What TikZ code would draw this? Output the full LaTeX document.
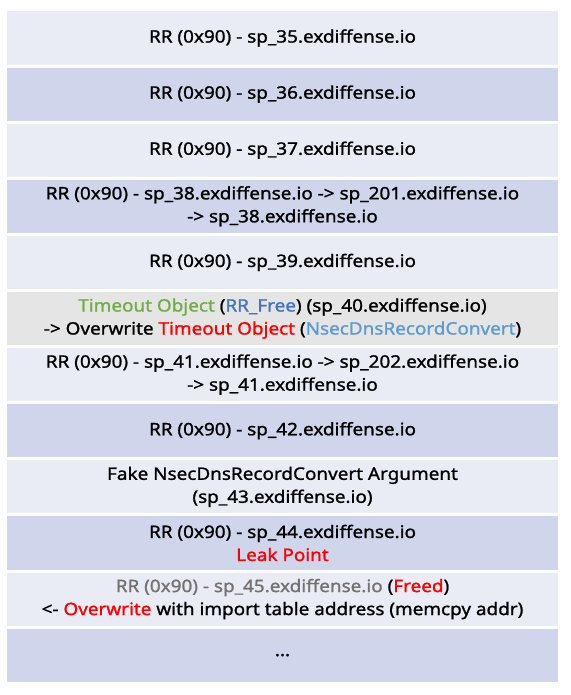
\documentclass[tikz,border=0pt]{standalone}
\usepackage{fontspec}
\setmainfont{Noto Sans}
\newfontfamily\rowfont{Noto Sans}[FakeBold=1.2,FakeStretch=1.1]
\definecolor{rowlight}{HTML}{E9EBF5}
\definecolor{rowdark}{HTML}{CFD5EA}
\definecolor{rowgray}{HTML}{E5E5E5}
\definecolor{tgreen}{HTML}{70AD47}
\definecolor{tblue}{HTML}{4472C4}
\definecolor{tlblue}{HTML}{5B9BD5}
\definecolor{tred}{HTML}{FF0000}
\definecolor{tgray}{HTML}{767171}
\begin{document}
\begin{tikzpicture}[x=1pt,y=-1pt,
  rowtext/.style={align=center,font=\rowfont\fontsize{17.2}{23}\selectfont,text=black,inner sep=0pt}]
\useasboundingbox (0,0) rectangle (570,695);
\fill[white] (0,0) rectangle (570,695);
\def\rowfill#1#2{\fill[#2] (7,{10+56.1*(#1)+1.5}) rectangle (558,{10+56.1*(#1+1)-1.5});}
\rowfill{0}{rowlight}
\rowfill{1}{rowdark}
\rowfill{2}{rowlight}
\rowfill{3}{rowdark}
\rowfill{4}{rowlight}
\rowfill{5}{rowgray}
\rowfill{6}{rowlight}
\rowfill{7}{rowdark}
\rowfill{8}{rowlight}
\rowfill{9}{rowdark}
\rowfill{10}{rowlight}
\rowfill{11}{rowdark}
\def\rc#1{{10+56.1*(#1+0.5)}}
\node[rowtext] (r1) at (282.5,\rc{0}) {RR (0x90) - sp\_35.exdiffense.io};
\node[rowtext] (r2) at (282.5,\rc{1}) {RR (0x90) - sp\_36.exdiffense.io};
\node[rowtext] (r3) at (282.5,\rc{2}) {RR (0x90) - sp\_37.exdiffense.io};
\node[rowtext] (r4) at (282.5,\rc{3}) {RR (0x90) - sp\_38.exdiffense.io -> sp\_201.exdiffense.io\\-> sp\_38.exdiffense.io};
\node[rowtext] (r5) at (282.5,\rc{4}) {RR (0x90) - sp\_39.exdiffense.io};
\node[rowtext] (r6) at (282.5,\rc{5}) {\textcolor{tgreen}{Timeout Object} (\textcolor{tblue}{RR\_Free}) (sp\_40.exdiffense.io)\\-> Overwrite \textcolor{tred}{Timeout Object} (\textcolor{tlblue}{NsecDnsRecordConvert})};
\node[rowtext] (r7) at (282.5,\rc{6}) {RR (0x90) - sp\_41.exdiffense.io -> sp\_202.exdiffense.io\\-> sp\_41.exdiffense.io};
\node[rowtext] (r8) at (282.5,\rc{7}) {RR (0x90) - sp\_42.exdiffense.io};
\node[rowtext] (r9) at (282.5,\rc{8}) {Fake NsecDnsRecordConvert Argument\\(sp\_43.exdiffense.io)};
\node[rowtext] (r10) at (282.5,\rc{9}) {RR (0x90) - sp\_44.exdiffense.io\\\textcolor{tred}{Leak Point}};
\node[rowtext] (r11) at (282.5,\rc{10}) {\textcolor{tgray}{RR (0x90) - sp\_45.exdiffense.io} (\textcolor{tred}{Freed})\\<- \textcolor{tred}{Overwrite} with import table address (memcpy addr)};
\node[rowtext] (r12) at (282.5,\rc{11}) {...};
\end{tikzpicture}
\end{document}
